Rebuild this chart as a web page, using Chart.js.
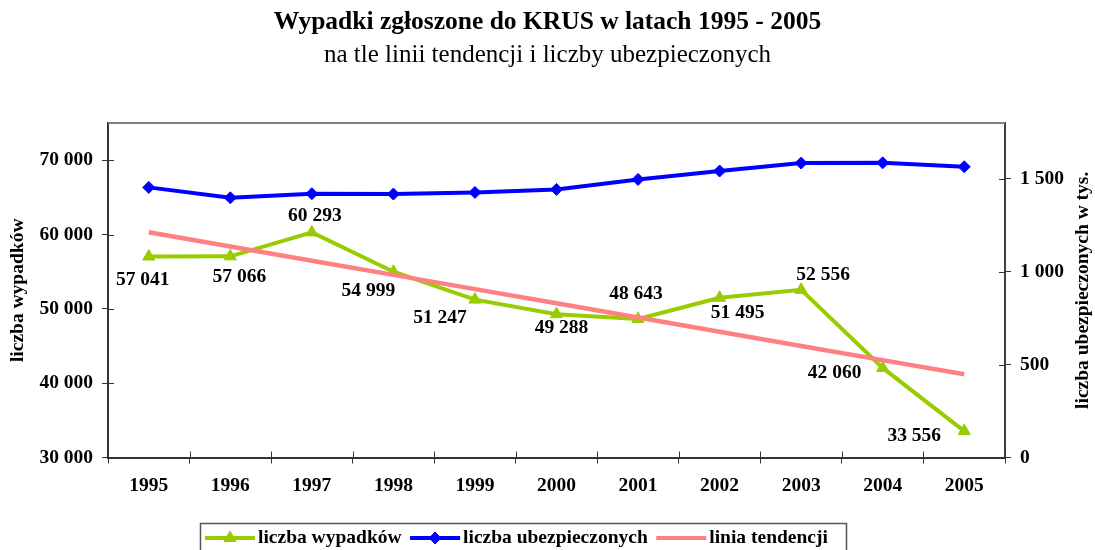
<!DOCTYPE html>
<html>
<head>
<meta charset="utf-8">
<script src="https://cdn.jsdelivr.net/npm/chart.js@4/dist/chart.umd.min.js"></script>
<style>
html,body{margin:0;padding:0;background:#fff;}
#wrap{width:1095px;height:550px;position:relative;}
</style>
</head>
<body>
<div id="wrap"><canvas id="c" width="1095" height="550"></canvas></div>
<script>
// ---- data ----
const years = ['1995','1996','1997','1998','1999','2000','2001','2002','2003','2004','2005'];
const accidents = [57041, 57066, 60293, 54999, 51247, 49288, 48643, 51495, 52556, 42060, 33556];
const insuredThousands = [1454, 1398, 1420, 1418, 1427, 1443, 1497, 1542, 1585, 1586, 1565];
const trendLine = [60307, 58396, 56484, 54572, 52661, 50749, 48838, 46926, 45015, 43103, 41192];
const leftTicks = [30000, 40000, 50000, 60000, 70000];
const rightTicks = [0, 500, 1000, 1500];

// ---- text ----
const titleText = 'Wypadki zgłoszone do KRUS w latach 1995 - 2005';
const subtitleText = 'na tle linii tendencji i liczby ubezpieczonych';
const leftAxisTitle = 'liczba wypadków';
const rightAxisTitle = 'liczba ubezpieczonych w tys.';

// ---- style ----
const FAMILY = "'Liberation Serif', 'Times New Roman', serif";
const LBL = 19.5;
const GREEN = '#99CC00', BLUE = '#0000FF', PINK = '#FF8080';
const AXIS = '#333333';
// label placement (pixel offsets from each point)
const labelOffsets = [[-6,23],[9,21],[3,-16],[-25,19],[-35,18],[5,14],[-2,-25],[18,15],[22,-15],[-48,5],[-50,5]];

const fmt = v => String(v).replace(/\B(?=(\d{3})+(?!\d))/g, ' ');

function drawMarker(ctx, style, x, y, r, color) {
  ctx.save();
  ctx.fillStyle = color; ctx.strokeStyle = color; ctx.lineWidth = 1;
  ctx.beginPath();
  if (style === 'triangle') {
    ctx.moveTo(x, y - r);
    ctx.lineTo(x + r * 0.866, y + r * 0.5);
    ctx.lineTo(x - r * 0.866, y + r * 0.5);
  } else if (style === 'rectRot') {
    ctx.moveTo(x, y - r); ctx.lineTo(x + r, y); ctx.lineTo(x, y + r); ctx.lineTo(x - r, y);
  }
  ctx.closePath(); ctx.fill(); ctx.stroke();
  ctx.restore();
}

const framePlugin = {
  id: 'frame',
  beforeDatasetsDraw(chart) {
    const {ctx, chartArea: a} = chart;
    ctx.save();
    // top border of plot area
    ctx.strokeStyle = '#808080'; ctx.lineWidth = 2;
    ctx.beginPath(); ctx.moveTo(a.left, a.top); ctx.lineTo(a.right, a.top); ctx.stroke();
    // inner halves of tick marks
    ctx.strokeStyle = AXIS; ctx.lineWidth = 1;
    const y = chart.scales.y, y1 = chart.scales.y1;
    leftTicks.forEach(v => { const p = Math.round(y.getPixelForValue(v)) + 0.5; ctx.beginPath(); ctx.moveTo(a.left, p); ctx.lineTo(a.left + 6, p); ctx.stroke(); });
    rightTicks.forEach(v => { const p = Math.round(y1.getPixelForValue(v)) + 0.5; ctx.beginPath(); ctx.moveTo(a.right - 6, p); ctx.lineTo(a.right, p); ctx.stroke(); });
    const n = years.length;
    for (let i = 0; i <= n; i++) {
      const p = Math.round(a.left + i * (a.right - a.left) / n) + 0.5;
      ctx.beginPath(); ctx.moveTo(p, a.bottom - 6); ctx.lineTo(p, a.bottom); ctx.stroke();
    }
    ctx.restore();
  }
};

const labelPlugin = {
  id: 'valueLabels',
  afterDatasetsDraw(chart) {
    const {ctx} = chart;
    const idx = chart.data.datasets.findIndex(d => d.id === 'acc');
    const meta = chart.getDatasetMeta(idx);
    ctx.save();
    ctx.font = 'bold ' + LBL + 'px ' + FAMILY;
    ctx.fillStyle = '#000'; ctx.textAlign = 'center'; ctx.textBaseline = 'middle';
    meta.data.forEach((el, i) => {
      const o = labelOffsets[i];
      ctx.fillText(fmt(accidents[i]), el.x + o[0], el.y + o[1]);
    });
    ctx.restore();
  }
};

const extrasPlugin = {
  id: 'extras',
  afterDraw(chart) {
    const {ctx, chartArea: a} = chart;
    ctx.save();
    // right axis title (reads bottom-to-top)
    ctx.font = 'bold ' + LBL + 'px ' + FAMILY;
    ctx.fillStyle = '#000'; ctx.textAlign = 'center'; ctx.textBaseline = 'middle';
    ctx.translate(1083, (a.top + a.bottom) / 2);
    ctx.rotate(-Math.PI / 2);
    ctx.fillText(rightAxisTitle, 0, 0);
    ctx.restore();

    // legend
    ctx.save();
    const items = [
      {ds: 'acc', style: 'triangle', r: 7},
      {ds: 'ins', style: 'rectRot', r: 6},
      {ds: 'trend', style: null, r: 0}
    ];
    const ly = 538;
    ctx.strokeStyle = '#555'; ctx.lineWidth = 1.5;
    ctx.strokeRect(200.5, 523.5, 646, 40);
    ctx.font = 'bold ' + LBL + 'px ' + FAMILY;
    ctx.textBaseline = 'middle'; ctx.textAlign = 'left';
    let x = 205;
    items.forEach(it => {
      const d = chart.data.datasets.find(q => q.id === it.ds);
      ctx.strokeStyle = d.borderColor; ctx.lineWidth = 4;
      ctx.beginPath(); ctx.moveTo(x, ly); ctx.lineTo(x + 50, ly); ctx.stroke();
      if (it.style) drawMarker(ctx, it.style, x + 25, ly, it.r, d.borderColor);
      ctx.fillStyle = '#000';
      ctx.fillText(d.label, x + 53, ly);
      x = x + 53 + ctx.measureText(d.label).width + 8.5;
    });
    ctx.restore();
  }
};

const tickFont = {family: FAMILY, size: LBL, weight: 'bold'};

new Chart(document.getElementById('c'), {
  type: 'line',
  data: {
    labels: years,
    datasets: [
      { id: 'trend', label: 'linia tendencji', data: trendLine, yAxisID: 'y',
        borderColor: PINK, backgroundColor: PINK, borderWidth: 4.5, pointRadius: 0, tension: 0, order: 0 },
      { id: 'acc', label: 'liczba wypadków', data: accidents, yAxisID: 'y',
        borderColor: GREEN, backgroundColor: GREEN, borderWidth: 4, pointStyle: 'triangle',
        pointRadius: 7, pointBorderWidth: 1, tension: 0, order: 1 },
      { id: 'ins', label: 'liczba ubezpieczonych', data: insuredThousands, yAxisID: 'y1',
        borderColor: BLUE, backgroundColor: BLUE, borderWidth: 4, pointStyle: 'rectRot',
        pointRadius: 6, pointBorderWidth: 1, tension: 0, order: 2 }
    ]
  },
  options: {
    responsive: false,
    animation: false,
    devicePixelRatio: 1,
    layout: {padding: {left: 0, right: 0, top: 0, bottom: 0}},
    plugins: {
      legend: {display: false},
      tooltip: {enabled: false},
      title: {display: true, text: titleText, color: '#000',
        font: {family: FAMILY, size: 25.5, weight: 'bold'}, padding: {top: 7, bottom: 0}},
      subtitle: {display: true, text: subtitleText, color: '#000',
        font: {family: FAMILY, size: 25, weight: 'normal'}, padding: {top: 3, bottom: 52.5}}
    },
    scales: {
      x: {
        type: 'category', offset: true,
        grid: {offset: true, drawOnChartArea: false, drawTicks: true, tickLength: 6, color: AXIS, lineWidth: 1},
        border: {display: true, color: AXIS, width: 2},
        ticks: {font: tickFont, color: '#000', padding: 11, maxRotation: 0, autoSkip: false},
        afterFit: s => { s.height = 92.5; }
      },
      y: {
        position: 'left', min: 30000, max: 75000,
        afterBuildTicks: s => { s.ticks = leftTicks.map(v => ({value: v})); },
        grid: {drawOnChartArea: false, drawTicks: true, tickLength: 6, color: AXIS, lineWidth: 1},
        border: {display: true, color: AXIS, width: 2},
        ticks: {font: tickFont, color: '#000', padding: 9, callback: v => fmt(v)},
        title: {display: true, text: leftAxisTitle, color: '#000', font: tickFont, padding: {top: 6, bottom: 0}},
        afterFit: s => { s.width = 108; }
      },
      y1: {
        position: 'right', min: 0, max: 1800,
        afterBuildTicks: s => { s.ticks = rightTicks.map(v => ({value: v})); },
        grid: {drawOnChartArea: false, drawTicks: true, tickLength: 6, color: AXIS, lineWidth: 1},
        border: {display: true, color: '#404040', width: 2},
        ticks: {font: tickFont, color: '#000', padding: 9, callback: v => fmt(v)},
        afterFit: s => { s.width = 90; }
      }
    }
  },
  plugins: [framePlugin, labelPlugin, extrasPlugin]
});
</script>
</body>
</html>
